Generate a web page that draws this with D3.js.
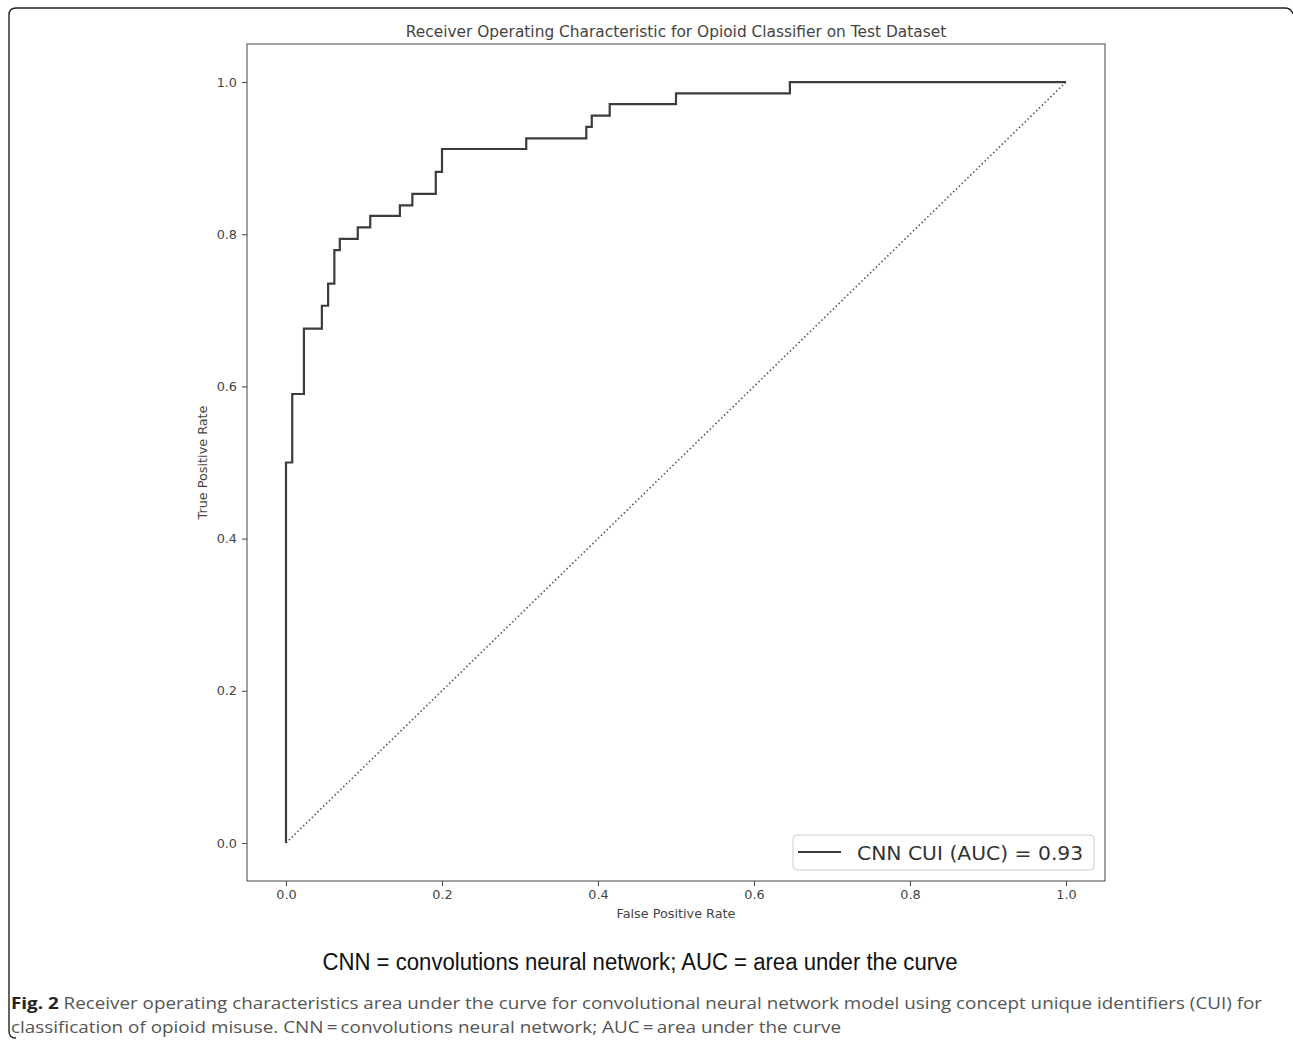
<!DOCTYPE html>
<html>
<head>
<meta charset="utf-8">
<script src="https://cdn.jsdelivr.net/npm/d3@7"></script>
<style>
  body { margin: 0; background: #fff; }
  svg { display: block; }
</style>
</head>
<body>
<svg id="svg" width="1293" height="1044"></svg>
<script>
// ROC operating points (step curve, vertical first)
const fpr = [0, 0, 0.008, 0.023, 0.046, 0.054, 0.062, 0.069, 0.092, 0.108, 0.146, 0.162,
    0.192, 0.2, 0.308, 0.385, 0.392, 0.415, 0.5, 0.646, 1.0];
const tpr = [0, 0.5, 0.59, 0.676, 0.706, 0.735, 0.779, 0.794, 0.809, 0.824, 0.838, 0.853,
    0.882, 0.912, 0.926, 0.941, 0.956, 0.971, 0.985, 1.0, 1.0];
const chance = [[0, 0], [1, 1]];
const tickValues = [0, 0.2, 0.4, 0.6, 0.8, 1.0];

const titleText = "Receiver Operating Characteristic for Opioid Classifier on Test Dataset";
const legendText = "CNN CUI (AUC) = 0.93";
const noteText = "CNN = convolutions neural network; AUC = area under the curve";
const captionBold = "Fig. 2";
const captionLine1 = " Receiver operating characteristics area under the curve for convolutional neural network model using concept unique identifiers (CUI) for";
const captionLine2 = "classification of opioid misuse. CNN\u2009=\u2009convolutions neural network; AUC\u2009=\u2009area under the curve";

const svg = d3.select("#svg");
const mplFont = "'DejaVu Sans', sans-serif";
const ink = "#444";

const plot = {left: 247, right: 1105, top: 44, bottom: 881};

const x = d3.scaleLinear().domain([-0.05, 1.05]).range([plot.left, plot.right]);
const y = d3.scaleLinear().domain([-0.05, 1.05]).range([plot.bottom, plot.top]);

// page frame (rounded, partially open like the source figure)
svg.append("path")
    .attr("d", "M 16 1038 Q 9 1038 9 1031 L 9 15 Q 9 8 16 8 L 1285 8 Q 1291 8 1293 14")
    .attr("fill", "none")
    .attr("stroke", "#222")
    .attr("stroke-width", 1.4);

// title
svg.append("text")
    .attr("x", (plot.left + plot.right) / 2)
    .attr("y", 37)
    .attr("text-anchor", "middle")
    .attr("font-family", mplFont)
    .attr("font-size", 15.4)
    .attr("fill", ink)
    .text(titleText);

// axes
const xAxis = d3.axisBottom(x).tickValues(tickValues).tickFormat(d3.format(".1f"))
    .tickSize(5).tickPadding(4);
const yAxis = d3.axisLeft(y).tickValues(tickValues).tickFormat(d3.format(".1f"))
    .tickSize(5).tickPadding(5);

const gx = svg.append("g").attr("transform", `translate(0,${plot.bottom})`).call(xAxis);
const gy = svg.append("g").attr("transform", `translate(${plot.left},0)`).call(yAxis);

[gx, gy].forEach(g => {
    g.select(".domain").remove();
    g.selectAll(".tick line").attr("stroke", ink).attr("stroke-width", 1);
    g.selectAll(".tick text")
        .attr("fill", ink)
        .attr("font-family", mplFont)
        .attr("font-size", 12.8);
});

// diagonal chance line
svg.append("path")
    .datum(chance)
    .attr("d", d3.line().x(d => x(d[0])).y(d => y(d[1])))
    .attr("fill", "none")
    .attr("stroke", "#555")
    .attr("stroke-width", 1.6)
    .attr("stroke-dasharray", "1.5,2.5");

// ROC curve
const rocLine = d3.line()
    .x(i => x(fpr[i]))
    .y(i => y(tpr[i]))
    .curve(d3.curveStepAfter);

svg.append("path")
    .datum(d3.range(fpr.length))
    .attr("d", rocLine)
    .attr("fill", "none")
    .attr("stroke", "#3c3c3c")
    .attr("stroke-width", 2.2);

// axes frame
svg.append("rect")
    .attr("x", plot.left)
    .attr("y", plot.top)
    .attr("width", plot.right - plot.left)
    .attr("height", plot.bottom - plot.top)
    .attr("fill", "none")
    .attr("stroke", ink)
    .attr("stroke-width", 1);

// axis labels
svg.append("text")
    .attr("x", (plot.left + plot.right) / 2)
    .attr("y", 918)
    .attr("text-anchor", "middle")
    .attr("font-family", mplFont)
    .attr("font-size", 12.8)
    .attr("fill", ink)
    .text("False Positive Rate");

svg.append("text")
    .attr("transform", `translate(207,${(plot.top + plot.bottom) / 2}) rotate(-90)`)
    .attr("text-anchor", "middle")
    .attr("font-family", mplFont)
    .attr("font-size", 12.8)
    .attr("fill", ink)
    .text("True Positive Rate");

// legend
const legend = svg.append("g").attr("transform", `translate(${plot.right - 312},${plot.bottom - 46})`);
legend.append("rect")
    .attr("width", 301)
    .attr("height", 35)
    .attr("rx", 4)
    .attr("fill", "#fff")
    .attr("stroke", "#ccc")
    .attr("stroke-width", 1);
legend.append("line")
    .attr("x1", 5).attr("x2", 48)
    .attr("y1", 17).attr("y2", 17)
    .attr("stroke", "#3c3c3c")
    .attr("stroke-width", 2.2);
legend.append("text")
    .attr("x", 64)
    .attr("y", 24.5)
    .attr("font-family", mplFont)
    .attr("font-size", 20.3)
    .attr("fill", "#333")
    .text(legendText);

// note under the chart
svg.append("text")
    .attr("x", 640)
    .attr("y", 970)
    .attr("text-anchor", "middle")
    .attr("font-family", "'Liberation Sans Narrow', 'Liberation Sans', Arial, sans-serif")
    .attr("font-size", 23)
    .attr("fill", "#111")
    .attr("textLength", 635)
    .attr("lengthAdjust", "spacingAndGlyphs")
    .text(noteText);

// figure caption
const capFont = "'Open Sans', 'Noto Sans', sans-serif";
const cap1 = svg.append("text")
    .attr("x", 11)
    .attr("y", 1009)
    .attr("font-family", capFont)
    .attr("font-size", 16.5)
    .attr("fill", "#555")
    .attr("textLength", 1251)
    .attr("lengthAdjust", "spacingAndGlyphs");
cap1.append("tspan").attr("font-weight", "bold").attr("fill", "#222").text(captionBold);
cap1.append("tspan").text(captionLine1);

svg.append("text")
    .attr("x", 11)
    .attr("y", 1033)
    .attr("font-family", capFont)
    .attr("font-size", 16.5)
    .attr("fill", "#555")
    .attr("textLength", 830)
    .attr("lengthAdjust", "spacingAndGlyphs")
    .text(captionLine2);
</script>
</body>
</html>
